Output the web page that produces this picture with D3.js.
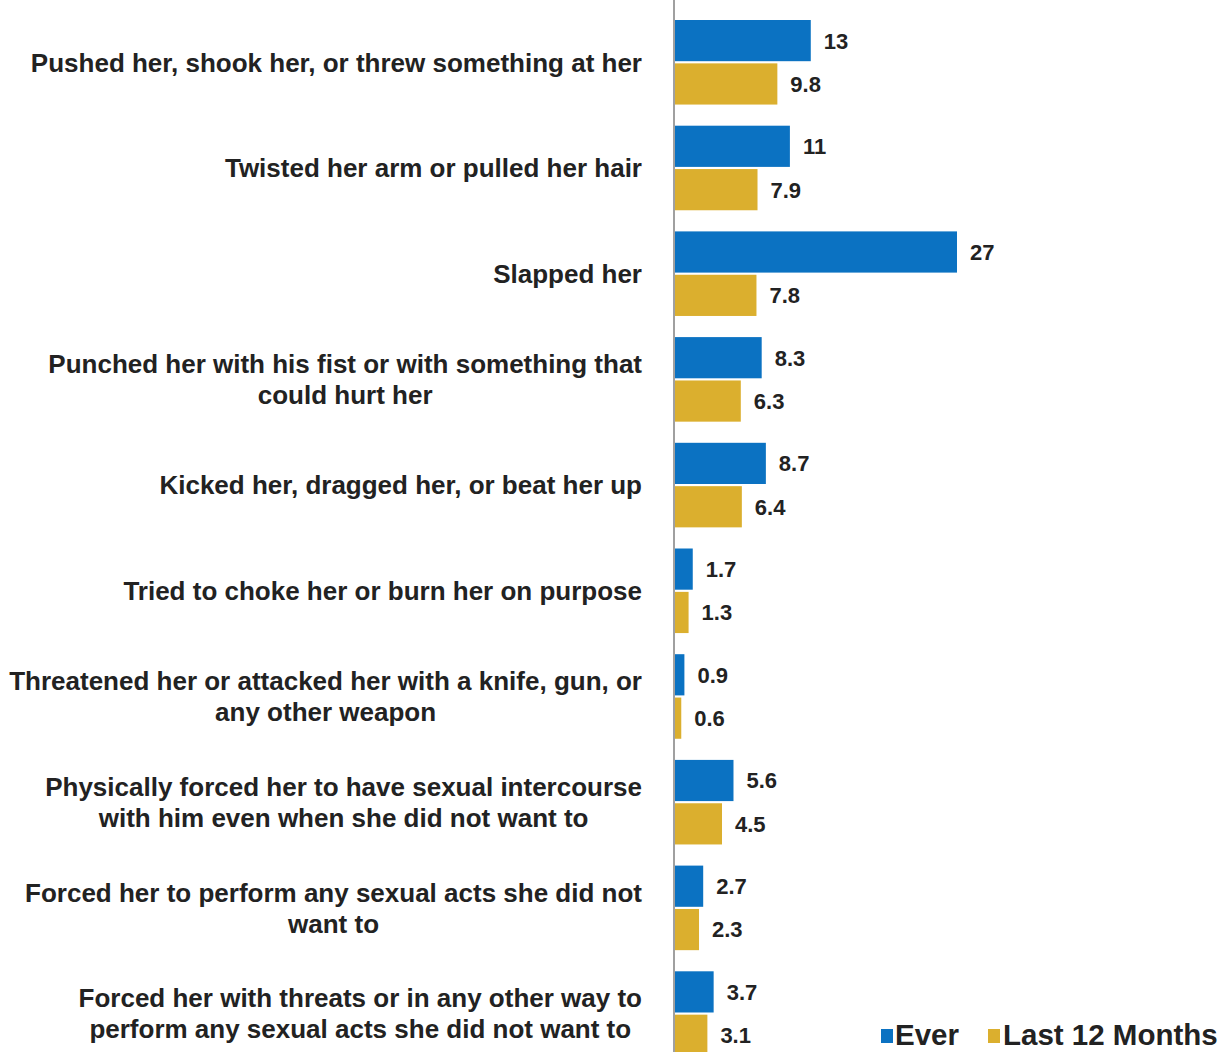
<!DOCTYPE html>
<html>
<head>
<meta charset="utf-8">
<script src="https://cdn.jsdelivr.net/npm/d3@7"></script>
<style>
  html, body { margin: 0; padding: 0; background: #ffffff; }
  svg { display: block; }
</style>
</head>
<body>
<svg id="chart" width="1225" height="1052"></svg>
<script>
const categories = [
  "Pushed her, shook her, or threw something at her",
  "Twisted her arm or pulled her hair",
  "Slapped her",
  "Punched her with his fist or with something that|could hurt her",
  "Kicked her, dragged her, or beat her up",
  "Tried to choke her or burn her on purpose",
  "Threatened her or attacked her with a knife, gun, or|any other weapon",
  "Physically forced her to have sexual intercourse|with him even when she did not want to",
  "Forced her to perform any sexual acts she did not|want to",
  "Forced her with threats or in any other way to|perform any sexual acts she did not want to"
];
const seriesNames = ["Ever", "Last 12 Months"];
const everValues = [13, 11, 27, 8.3, 8.7, 1.7, 0.9, 5.6, 2.7, 3.7];
const last12Values = [9.8, 7.9, 7.8, 6.3, 6.4, 1.3, 0.6, 4.5, 2.3, 3.1];
const valueLabelsEver = ["13", "11", "27", "8.3", "8.7", "1.7", "0.9", "5.6", "2.7", "3.7"];
const valueLabelsLast = ["9.8", "7.9", "7.8", "6.3", "6.4", "1.3", "0.6", "4.5", "2.3", "3.1"];
const colors = ["#0B72C2", "#DBAF2E"];

const svg = d3.select("#chart");
const FONT = "'Liberation Sans', Arial, sans-serif";

const rows = categories.map((c, i) => ({
  cat: c,
  values: [
    { s: seriesNames[0], v: everValues[i], label: valueLabelsEver[i] },
    { s: seriesNames[1], v: last12Values[i], label: valueLabelsLast[i] }
  ]
}));

const x = d3.scaleLinear().domain([0, 27]).range([675, 957]);
const y0 = d3.scaleBand().domain(categories).range([20, 20 + 105.7 * 9.8]).paddingInner(0.2).paddingOuter(0);
const y1 = d3.scaleBand().domain(seriesNames).range([0, y0.bandwidth()]).paddingInner(0.05);
const color = d3.scaleOrdinal().domain(seriesNames).range(colors);

// groups
const g = svg.append("g");
const groups = g.selectAll("g.grp").data(rows).join("g")
  .attr("class", "grp")
  .attr("transform", d => `translate(0,${y0(d.cat)})`);

groups.selectAll("rect").data(d => d.values).join("rect")
  .attr("x", x(0))
  .attr("y", d => y1(d.s))
  .attr("width", d => x(d.v) - x(0))
  .attr("height", y1.bandwidth())
  .attr("fill", d => color(d.s));

groups.selectAll("text.val").data(d => d.values).join("text")
  .attr("class", "val")
  .attr("x", d => x(d.v) + 13)
  .attr("y", d => y1(d.s) + y1.bandwidth() / 2)
  .attr("dy", "0.36em")
  .attr("font-family", FONT)
  .attr("font-size", 22)
  .attr("font-weight", "bold")
  .attr("fill", "#222")
  .text(d => d.label);

// axis line
const yAxis = d3.axisLeft(y0).tickSize(0).tickFormat("");
const axG = svg.append("g").attr("transform", `translate(${x(0) - 1},0)`).call(yAxis);
axG.select(".domain").attr("d", "M0,0V1052").attr("stroke", "#808080").attr("stroke-width", 1.5);

// category labels (centered block, right edge at 642)
const labelRight = 642;
const lineH = 31;
groups.each(function(d) {
  const lines = d.cat.split("|");
  const t = d3.select(this).append("text")
    .attr("font-family", FONT)
    .attr("font-size", 26)
    .attr("font-weight", "bold")
    .attr("fill", "#222")
    .attr("text-anchor", "middle");
  const cy = y0.bandwidth() / 2;
  const startY = cy - (lines.length - 1) * lineH / 2;
  const spans = lines.map((ln, i) => t.append("tspan")
    .attr("y", startY + i * lineH)
    .attr("dy", "0.36em")
    .text(ln));
  let w = 0;
  spans.forEach(s => { w = Math.max(w, s.node().getComputedTextLength()); });
  spans.forEach(s => s.attr("x", labelRight - w / 2));
});

// legend
const legend = svg.append("g");
const legItems = [
  { name: seriesNames[0], sx: 881, tx: 895 },
  { name: seriesNames[1], sx: 988, tx: 1003 }
];
legItems.forEach(it => {
  legend.append("rect").attr("x", it.sx).attr("y", 1029).attr("width", 12).attr("height", 14).attr("fill", color(it.name));
  legend.append("text").attr("x", it.tx).attr("y", 1045)
    .attr("font-family", FONT).attr("font-size", 29.5).attr("font-weight", "bold")
    .attr("fill", "#222").text(it.name);
});
</script>
</body>
</html>
